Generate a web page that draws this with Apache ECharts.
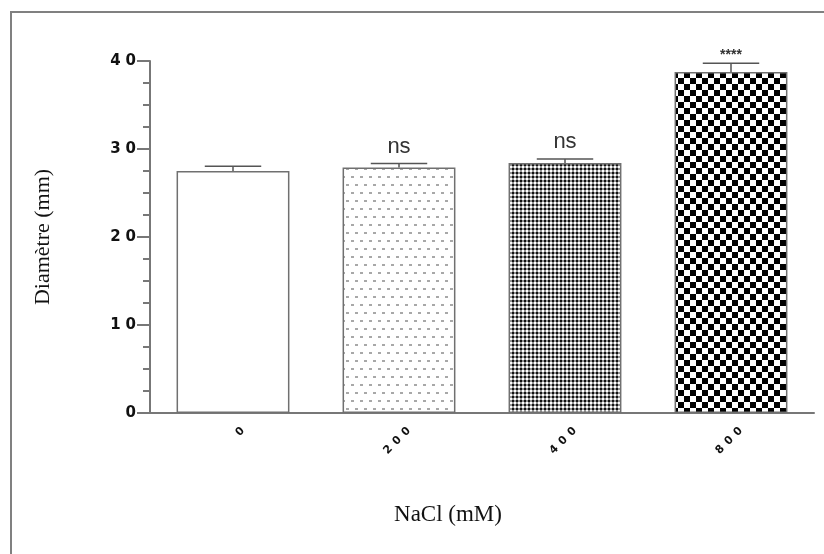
<!DOCTYPE html>
<html>
<head>
<meta charset="utf-8">
<script src="https://cdn.jsdelivr.net/npm/echarts@6/dist/echarts.min.js"></script>
<style>html,body{margin:0;padding:0;background:#fff}#c{width:824px;height:554px}</style>
</head>
<body>
<div id="c"></div>
<script>
// ---- data ----
var categories = ['0', '200', '400', '800'];
var means = [27.5, 27.9, 28.4, 38.75];
var errors = [0.55, 0.45, 0.45, 1.0];
var significance = ['', 'ns', 'ns', '****'];
var yTicks = [0, 10, 20, 30, 40];

// ---- fill patterns ----
function makeTile(w, h, draw) {
  var c = document.createElement('canvas');
  c.width = w; c.height = h;
  draw(c.getContext('2d'));
  return c;
}
var dotTile = makeTile(9, 16, function (g) {
  g.fillStyle = '#fff'; g.fillRect(0, 0, 9, 16);
  g.fillStyle = '#a8a8a8';
  g.fillRect(0, 0, 3, 2);
  g.fillRect(4, 8, 3, 2);
});
var fineTile = makeTile(4, 4, function (g) {
  g.fillStyle = '#959595'; g.fillRect(0, 0, 4, 4);
  g.fillStyle = '#111'; g.fillRect(0, 0, 2, 2);
  g.fillStyle = '#fff'; g.fillRect(2, 2, 2, 2);
});
var checkTile = makeTile(12, 12, function (g) {
  g.fillStyle = '#fff'; g.fillRect(0, 0, 12, 12);
  g.fillStyle = '#000';
  g.fillRect(0, 0, 6, 6);
  g.fillRect(6, 6, 6, 6);
});
var fills = [
  '#ffffff',
  { image: dotTile, repeat: 'repeat' },
  { image: fineTile, repeat: 'repeat' },
  { image: checkTile, repeat: 'repeat' }
];

var barData = means.map(function (v, i) {
  return { value: v, itemStyle: { color: fills[i] } };
});
var errData = means.map(function (v, i) { return [i, v, errors[i]]; });

// spread digits apart (letter spacing) while keeping the real label text
function spaced(v) {
  return String(v).split('').map(function (ch) { return '{d|' + ch + '}'; }).join('');
}

var chart = echarts.init(document.getElementById('c'), null, { renderer: 'canvas' });
var axisGrey = '#777';
chart.setOption({
  animation: false,
  backgroundColor: '#fff',
  graphic: [{
    type: 'rect', shape: { x: 11, y: 12, width: 840, height: 580 },
    style: { fill: 'none', stroke: '#808080', lineWidth: 2 }, z: -1
  }],
  grid: { left: 150, right: 10, top: 61, bottom: 141, containLabel: false },
  xAxis: {
    type: 'category', data: categories, boundaryGap: true,
    name: 'NaCl (mM)', nameLocation: 'middle', nameGap: 90,
    nameTextStyle: { fontFamily: 'Liberation Serif', fontSize: 23, color: '#111', padding: [0, 68, 0, 0] },
    axisLine: { lineStyle: { color: axisGrey, width: 2 } },
    axisTick: { alignWithLabel: true, length: 7, lineStyle: { color: axisGrey, width: 2 } },
    axisLabel: {
      rotate: 45, margin: 26, interval: 0, padding: [0, -14, 0, 0],
      formatter: spaced,
      rich: { d: { fontFamily: 'DejaVu Sans', fontWeight: 'bold', fontSize: 11, color: '#111', padding: [0, 0, 0, 5] } }
    }
  },
  yAxis: {
    type: 'value', min: yTicks[0], max: yTicks[yTicks.length - 1], interval: 10,
    name: 'Diamètre (mm)', nameLocation: 'middle', nameGap: 96,
    nameTextStyle: { fontFamily: 'Liberation Serif', fontSize: 22, color: '#111' },
    axisLine: { show: true, lineStyle: { color: axisGrey, width: 2 } },
    axisTick: { show: true, length: 13, lineStyle: { color: axisGrey, width: 2 } },
    minorTick: { show: true, splitNumber: 4, length: 7, lineStyle: { color: axisGrey, width: 2 } },
    splitLine: { show: false },
    axisLabel: {
      margin: 14, formatter: spaced,
      rich: { d: { fontFamily: 'DejaVu Sans', fontWeight: 'bold', fontSize: 15, color: '#111', padding: [0, 0, 0, 5] } }
    }
  },
  series: [{
    type: 'bar', data: barData, barCategoryGap: '32%',
    itemStyle: { borderColor: '#707070', borderWidth: 1.5 }
  }, {
    type: 'custom', data: errData, z: 5,
    renderItem: function (params, api) {
      var i = api.value(0), m = api.value(1), e = api.value(2);
      var s = significance[params.dataIndex];
      var p0 = api.coord([i, m]);
      var p1 = api.coord([i, m + e]);
      var hw = api.size([1, 0])[0] * 0.17;
      var st = { stroke: '#555', lineWidth: 1.5 };
      var kids = [
        { type: 'line', shape: { x1: p0[0], y1: p0[1], x2: p1[0], y2: p1[1] }, style: st },
        { type: 'line', shape: { x1: p1[0] - hw, y1: p1[1], x2: p1[0] + hw, y2: p1[1] }, style: st }
      ];
      if (s) {
        var stars = s.indexOf('*') >= 0;
        kids.push({
          type: 'text', x: p1[0], y: p1[1] - (stars ? 1 : 6),
          style: {
            text: s, align: 'center', verticalAlign: 'bottom',
            font: stars ? 'bold 14px "Liberation Sans"' : '22px "Liberation Sans"',
            fill: '#333'
          }
        });
      }
      return { type: 'group', children: kids };
    }
  }]
});
</script>
</body>
</html>
